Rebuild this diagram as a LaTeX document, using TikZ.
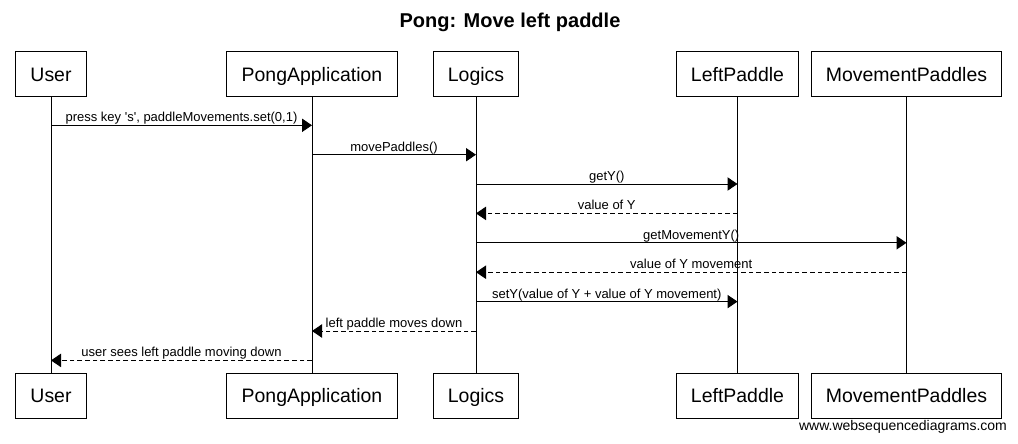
\documentclass[tikz,border=0pt]{standalone}
\usepackage{fontspec}
\setmainfont{Liberation Sans}
\usepackage{tikz}
\usetikzlibrary{arrows.meta}
\tikzset{
	actor/.style = {shape=rectangle, draw, line width=0.75pt,
		minimum height=33.75pt, inner xsep=11pt,
		text height=10.5pt, text depth=0pt,
		font=\fontsize{14.6}{17}\selectfont},
	msg/.style   = {draw, line width=0.75pt, -{Triangle[length=7.5pt,width=10pt]}},
	reply/.style = {msg, dash pattern=on 3.5pt off 2.25pt},
	lbl/.style   = {above, inner xsep=1pt, inner ysep=2.25pt, text depth=0pt,
		font=\fontsize{9.75}{11}\selectfont}
}

\begin{document}
\begin{tikzpicture}
	[
	x = 0.75pt,
	y = -0.75pt,
	every path/.style = {line width=0.75pt}
	]
	\useasboundingbox (0,0) rectangle (1018,443);
	\node [font=\bfseries\fontsize{15}{18}\selectfont, text height=10.7pt, text depth=0pt]
		(title) at (510,20) {Pong: Move left paddle};
	% heads
	\node [actor] (user)  at (51,74)    {User};
	\node [actor] (pong)  at (312,74)   {PongApplication};
	\node [actor] (logic) at (476,74)   {Logics};
	\node [actor] (left)  at (737.5,74) {LeftPaddle};
	\node [actor] (move)  at (906.5,74) {MovementPaddles};
	% feet
	\node [actor] (userB)  at (51,395.5)    {User};
	\node [actor] (pongB)  at (312,395.5)   {PongApplication};
	\node [actor] (logicB) at (476,395.5)   {Logics};
	\node [actor] (leftB)  at (737.5,395.5) {LeftPaddle};
	\node [actor] (moveB)  at (906.5,395.5) {MovementPaddles};
	% lifelines
	\foreach \a in {user, pong, logic, left, move}
		\draw (\a.south) -- (\a B.north);
	% rows
	\foreach \i/\y in {1/125.3, 2/154.7, 3/184, 4/213.4, 5/242.8, 6/272.2, 7/301.6, 8/331, 9/360.4}
		\coordinate (r\i) at (0,\y);
	\draw [msg]   (user |- r1)  -- node [lbl] {press key \textquotesingle s\textquotesingle, paddleMovements.set(0,1)} (pong |- r1);
	\draw [msg]   (pong |- r2)  -- node [lbl] {movePaddles()} (logic |- r2);
	\draw [msg]   (logic |- r3) -- node [lbl] {getY()} (left |- r3);
	\draw [reply] (left |- r4)  -- node [lbl] {value of Y} (logic |- r4);
	\draw [msg]   (logic |- r5) -- node [lbl] {getMovementY()} (move |- r5);
	\draw [reply] (move |- r6)  -- node [lbl] {value of Y movement} (logic |- r6);
	\draw [msg]   (logic |- r7) -- node [lbl] {setY(value of Y + value of Y movement)} (left |- r7);
	\draw [reply] (logic |- r8) -- node [lbl] {left paddle moves down} (pong |- r8);
	\draw [reply] (pong |- r9)  -- node [lbl] {user sees left paddle moving down} (user |- r9);
	\node [font=\fontsize{10.5}{12}\selectfont] (site) at (903,427) {www.websequencediagrams.com};
\end{tikzpicture}
\end{document}
